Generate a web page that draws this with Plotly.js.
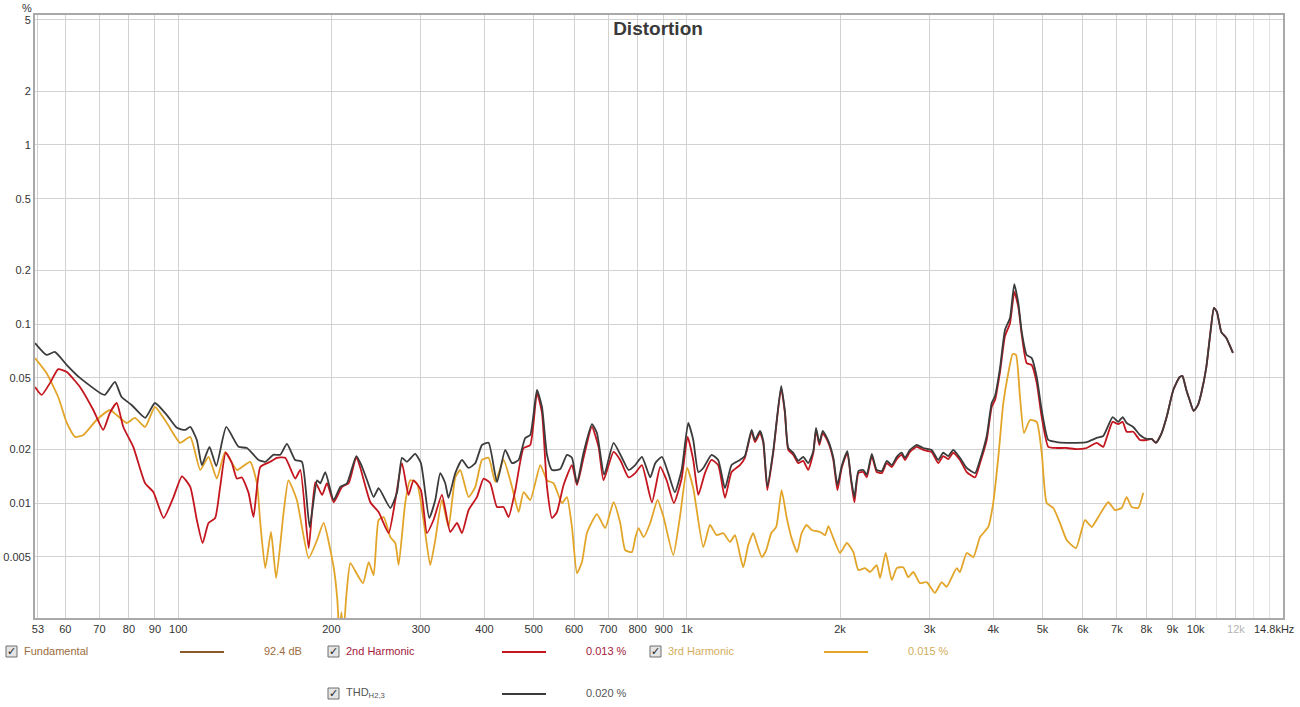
<!DOCTYPE html>
<html><head><meta charset="utf-8">
<script src="https://cdn.plot.ly/plotly-3.0.1.min.js"></script>
<style>html,body{margin:0;padding:0;background:#fff;}#chart{width:1300px;height:707px;}</style>
</head><body><div id="chart"></div>
<script>
// ---------- DATA ----------
const thdFreq=[52.3,55.1,57.2,60.4,64.1,70.2,71.8,75.1,77.4,81.0,
86.1,90.0,95.0,99.4,103.2,105.6,108.8,111.3,115.2,118.8,
124.3,131.4,136.5,143.9,148.3,153.9,158.7,163.6,169.8,175.1,
181.3,187.5,190.3,194.6,202.1,208.3,214.7,223.9,229.1,235.1,
242.2,247.7,261.2,269.3,275.3,281.6,292.3,300,311.5,320.1,
327.4,334.9,339.9,350.5,361.3,372.2,383.7,395.5,407.5,423.3,
439.4,453.1,466.8,481.0,492.1,507.3,518.9,530.8,542.9,563.6,
581.0,594.3,607.9,626.3,650.5,665.4,687.7,717.4,745.1,767.8,
791.4,815.8,847.1,866.4,893.1,918.9,947.1,976.3,1006,1029,
1053,1077,1118,1152,1188,1224,1271,1300,1340,1361,
1392,1413,1439,1478,1532,1558,1582,1618,1655,1693,
1731,1772,1794,1821,1849,1897,1940,1976,2015,2067,
2102,2134,2173,2222,2257,2309,2361,2416,2471,2527,
2585,2643,2683,2744,2829,2914,3027,3119,3191,3263,
3338,3441,3548,3684,3768,3884,3973,4033,4125,4219,
4316,4401,4481,4552,4655,4762,4871,4982,5133,5332,
5578,5837,6107,6389,6582,6868,7044,7186,7318,7539,
7771,8005,8194,8355,8574,8770,9037,9302,9416,9588,
9732,9910,10105,10261,10496,10688,10864,11011,11233,11490,
11838];
const thdPct=[0.0783,0.0672,0.0698,0.0590,0.0500,0.0412,0.0402,0.0475,0.0391,0.0353,
0.0299,0.0362,0.0310,0.0263,0.0256,0.0266,0.0225,0.0163,0.0206,0.0161,
0.0266,0.0206,0.0203,0.0174,0.0170,0.0186,0.0186,0.0214,0.0174,0.0170,
0.00735,0.0134,0.0129,0.0149,0.0104,0.0123,0.0129,0.0183,0.0163,0.0134,
0.0108,0.0121,0.00938,0.0115,0.0179,0.0170,0.0188,0.0167,0.00825,0.0104,
0.0147,0.0129,0.0107,0.0147,0.0174,0.0157,0.0167,0.0211,0.0217,0.0131,
0.0198,0.0167,0.0174,0.0231,0.0240,0.0428,0.0344,0.0186,0.0153,0.0155,
0.0186,0.0179,0.0129,0.0191,0.0276,0.0246,0.0144,0.0217,0.0179,0.0153,
0.0163,0.0181,0.0139,0.0167,0.0181,0.0147,0.0115,0.0153,0.0280,0.0225,
0.0149,0.0157,0.0186,0.0174,0.0121,0.0163,0.0174,0.0183,0.0256,0.0225,
0.0253,0.0222,0.0124,0.0195,0.0451,0.0327,0.0203,0.0191,0.0172,0.0181,
0.0167,0.0195,0.0263,0.0217,0.0253,0.0222,0.0179,0.0126,0.0161,0.0195,
0.0137,0.0108,0.0151,0.0153,0.0144,0.0188,0.0153,0.0151,0.0172,0.0163,
0.0181,0.0191,0.0179,0.0198,0.0211,0.0203,0.0198,0.0174,0.0191,0.0183,
0.0198,0.0179,0.0157,0.0147,0.0174,0.0237,0.0362,0.0396,0.0567,0.0925,
0.108,0.167,0.131,0.0902,0.0672,0.0645,0.0506,0.0331,0.0225,0.0219,
0.0217,0.0217,0.0219,0.0231,0.0237,0.0302,0.0284,0.0302,0.0280,0.0266,
0.0240,0.0228,0.0228,0.0217,0.0246,0.0302,0.0428,0.0506,0.0513,0.0428,
0.0376,0.0327,0.0353,0.0412,0.0575,0.0890,0.123,0.117,0.0902,0.0835,
0.0689];

const h2Freq=[52.3,53.9,56.0,58.1,60.4,64.1,68.1,71.2,73.4,75.7,
78.0,81.6,86.1,89.4,93.6,97.9,101.7,105.6,108.8,111.7,
114.7,118.2,120.9,124.0,127.5,130.4,133.4,137.5,140.6,145.0,
151.7,156.3,162.3,169.8,173.8,180.5,186.0,191.8,196.1,202.1,
209.9,216.3,223.9,228.1,238.6,247.7,259.2,267.2,275.3,283.6,
290.1,300,308.3,317.6,329.9,342.6,353.2,361.3,372.2,386.6,
398.4,410.6,423.3,436.1,446.1,459.9,477.5,492.1,507.3,518.9,
530.8,542.9,555.3,572.2,594.3,607.9,626.3,650.5,670.3,685.6,
717.4,739.4,767.8,791.4,815.8,853.6,886.2,912.2,942.9,976.3,
1003,1029,1053,1085,1118,1152,1188,1224,1271,1300,
1340,1361,1392,1413,1439,1478,1532,1558,1582,1618,
1655,1693,1731,1772,1794,1821,1849,1897,1940,1976,
2015,2067,2102,2134,2173,2222,2257,2309,2361,2416,
2471,2527,2585,2643,2683,2744,2829,2914,3027,3119,
3191,3263,3338,3441,3548,3684,3768,3884,3973,4033,
4125,4219,4316,4401,4481,4552,4655,4762,4871,4982,
5133,5332,5578,5837,6107,6389,6582,6684,6868,7044,
7186,7318,7539,7771,8005,8194,8355,8574,8770,9037,
9302,9416,9588,9732,9910,10105,10261,10496,10688,10864,
11011,11233,11490,11838];
const h2Pct=[0.0445,0.0402,0.0469,0.0560,0.0539,0.0445,0.0331,0.0256,0.0319,0.0362,
0.0266,0.0206,0.0129,0.0115,0.00825,0.0108,0.0141,0.0123,0.00804,0.00598,
0.00774,0.00825,0.0123,0.0191,0.0167,0.0137,0.0139,0.0114,0.00835,0.0159,
0.0170,0.0179,0.0179,0.0137,0.0153,0.00560,0.0131,0.0111,0.0129,0.0101,
0.0123,0.0129,0.0181,0.0157,0.0101,0.00891,0.00680,0.0104,0.0167,0.0111,
0.0134,0.0118,0.00680,0.00804,0.0111,0.00689,0.00774,0.00680,0.00914,0.0108,
0.0137,0.0129,0.00950,0.00950,0.00835,0.0118,0.0203,0.0211,0.0412,0.0319,
0.0123,0.00825,0.00891,0.0126,0.0163,0.0126,0.0179,0.0266,0.0206,0.0134,
0.0193,0.0174,0.0139,0.0147,0.0163,0.0101,0.0159,0.0134,0.0100,0.0137,
0.0234,0.0174,0.0111,0.0147,0.0174,0.0163,0.0107,0.0149,0.0163,0.0179,
0.0250,0.0219,0.0246,0.0217,0.0118,0.0191,0.0439,0.0319,0.0198,0.0186,
0.0167,0.0172,0.0153,0.0191,0.0256,0.0211,0.0246,0.0217,0.0174,0.0118,
0.0157,0.0191,0.0134,0.0101,0.0147,0.0149,0.0139,0.0183,0.0149,0.0147,
0.0167,0.0159,0.0176,0.0186,0.0174,0.0193,0.0206,0.0198,0.0193,0.0167,
0.0183,0.0176,0.0191,0.0174,0.0149,0.0139,0.0167,0.0225,0.0344,0.0376,
0.0539,0.0856,0.101,0.151,0.125,0.0868,0.0605,0.0590,0.0469,0.0302,
0.0206,0.0203,0.0203,0.0200,0.0203,0.0217,0.0206,0.0231,0.0284,0.0276,
0.0284,0.0250,0.0250,0.0225,0.0225,0.0228,0.0217,0.0246,0.0302,0.0428,
0.0506,0.0513,0.0428,0.0376,0.0327,0.0353,0.0412,0.0575,0.0890,0.123,
0.117,0.0902,0.0835,0.0689];

const h3Freq=[52.3,55.1,58.1,60.4,62.7,65.1,69.1,73.4,75.7,79.2,
82.2,86.1,90.0,95.0,100.9,105.6,110.5,114.7,119.1,123.7,
130.4,138.5,142.8,145.0,148.3,152.2,155.8,161.1,164.7,171.1,
180.5,187.5,193.1,202.1,205.5,207.4,209.3,211.2,214.1,218.0,
225.1,230.9,236.8,242.2,247.7,253.5,261.2,267.2,271.2,279.4,
285.8,294.6,303.5,312.9,320.1,329.9,339.9,350.5,358.4,372.2,
383.7,395.5,407.5,420.1,436.1,453.1,466.8,477.5,492.1,515.0,
530.8,546.8,568.0,581.0,594.3,607.9,621.8,636.1,665.4,690.8,
717.4,739.4,756.3,779.6,791.4,803.3,821.7,847.1,875.5,899.5,
939.9,968.8,1001,1029,1077,1110,1144,1179,1215,1243,
1290,1320,1350,1371,1404,1432,1465,1498,1535,1570,
1606,1647,1681,1719,1759,1827,1869,1897,1940,2000,
2062,2124,2173,2239,2291,2361,2397,2459,2527,2585,
2662,2723,2786,2871,2960,3073,3167,3240,3390,3441,
3548,3656,3768,3912,4000,4094,4187,4283,4369,4435,
4515,4599,4725,4871,4982,5096,5251,5412,5578,5818,
6060,6247,6435,6733,6940,7154,7318,7486,7712,7888];
const h3Pct=[0.0645,0.0532,0.0391,0.0280,0.0234,0.0240,0.0291,0.0331,0.0310,0.0280,
0.0299,0.0266,0.0344,0.0280,0.0217,0.0234,0.0153,0.0181,0.0137,0.0193,
0.0153,0.0170,0.0129,0.00774,0.00433,0.00689,0.00381,0.00880,0.0134,0.0104,
0.00493,0.00621,0.00774,0.00438,0.00287,0.00183,0.00246,0.00183,0.00307,0.00462,
0.00396,0.00357,0.00468,0.00396,0.00804,0.00835,0.00645,0.00598,0.00450,0.0100,
0.0134,0.0129,0.00804,0.00450,0.00621,0.0104,0.00735,0.0139,0.0153,0.0108,
0.0123,0.0174,0.0179,0.0131,0.0174,0.0123,0.00891,0.0115,0.0104,0.0163,
0.0134,0.0129,0.0100,0.0108,0.00735,0.00406,0.00468,0.00680,0.00868,0.00725,
0.0101,0.00774,0.00546,0.00532,0.00637,0.00725,0.00645,0.00774,0.0104,0.00835,
0.00512,0.00835,0.0157,0.0121,0.00567,0.00754,0.00662,0.00680,0.00606,0.00662,
0.00438,0.00583,0.00680,0.00598,0.00499,0.00546,0.00680,0.00735,0.0118,0.00835,
0.00637,0.00532,0.00680,0.00754,0.00707,0.00689,0.00662,0.00744,0.00637,0.00526,
0.00598,0.00532,0.00422,0.00433,0.00412,0.00450,0.00381,0.00526,0.00371,0.00433,
0.00438,0.00385,0.00412,0.00357,0.00362,0.00315,0.00362,0.00340,0.00433,0.00412,
0.00526,0.00499,0.00645,0.00735,0.0100,0.0181,0.0362,0.0532,0.0680,0.0672,
0.0391,0.0246,0.0291,0.0284,0.0191,0.0100,0.00938,0.00774,0.00621,0.00560,
0.00804,0.00735,0.00835,0.0101,0.00914,0.00938,0.0108,0.00950,0.00938,0.0114];

const xTickVals=[53,60,70,80,90,100,200,300,400,500,600,700,800,900,1000,2000,3000,4000,5000,6000,7000,8000,9000,10000,12000];
const xTickText=['53','60','70','80','90','100','200','300','400','500','600','700','800','900','1k','2k','3k','4k','5k','6k','7k','8k','9k','10k','<span style="color:#b4b4b4">12k</span>'];
const xEndLabel='14.8kHz';
const xMinorVals=[11000,13000,14000];
const xDecadeVals=[100,1000,10000];
const yTickVals=[0.005,0.01,0.02,0.05,0.1,0.2,0.5,1,2,5];
const yTickText=['0.005','0.01','0.02','0.05','0.1','0.2','0.5','1','2','5'];
const yDecadeVals=[0.01,0.1,1];

const seriesNames=['Fundamental','2nd Harmonic','3rd Harmonic','THD<sub>H2,3</sub>'];
const seriesReadouts=['92.4 dB','0.013 %','0.015 %','0.020 %'];

// ---------- STYLE / LAYOUT ----------
const L=35,R=1283,T=15,B=618;
const px=x=>(x-L)/(R-L), py=y=>(B-y)/(B-T);
const xRange=[Math.log10(52.3),Math.log10(14850)];
const yRange=[Math.log10(0.00228),Math.log10(5.32)];
const FONT='Arial, "Liberation Sans", sans-serif';

const lineColors=['#8b5a2b','#c4161f','#e2a52a','#3c3c3c'];
const textColors=['#9c6c40','#a3203a','#d3ad5c','#555555'];
const slots=[[0,651],[322,651],[644,651],[322,693]];

const traces=[
 {x:h3Freq,y:h3Pct,type:'scatter',mode:'lines',line:{color:lineColors[2],width:1.8,shape:'spline',smoothing:0.5},hoverinfo:'skip'},
 {x:h2Freq,y:h2Pct,type:'scatter',mode:'lines',line:{color:lineColors[1],width:1.8,shape:'spline',smoothing:0.5},hoverinfo:'skip'},
 {x:thdFreq,y:thdPct,type:'scatter',mode:'lines',line:{color:lineColors[3],width:1.8,shape:'spline',smoothing:0.5},hoverinfo:'skip'}
];

const annotations=[
 {text:'%',xref:'paper',yref:'paper',x:px(27),y:py(8),showarrow:false,font:{family:FONT,size:11,color:'#333'},xanchor:'center',yanchor:'middle'},
 {text:xEndLabel,xref:'paper',yref:'paper',x:px(1296),y:py(629),showarrow:false,font:{family:FONT,size:11,color:'#333'},xanchor:'right',yanchor:'middle'}
];
const shapes=[];
// darker decade gridlines (log axes: shape coords are log10 of the value)
xDecadeVals.forEach(v=>shapes.push({type:'line',layer:'below',xref:'x',yref:'paper',x0:Math.log10(v),x1:Math.log10(v),y0:0,y1:1,line:{color:'#8e8e8e',width:1}}));
yDecadeVals.forEach(v=>shapes.push({type:'line',layer:'below',xref:'paper',yref:'y',x0:0,x1:1,y0:Math.log10(v),y1:Math.log10(v),line:{color:'#9c9c9c',width:1}}));

seriesNames.forEach((name,i)=>{
  const [dx,yy]=slots[i];
  shapes.push({type:'rect',xref:'paper',yref:'paper',x0:px(6+dx),x1:px(17+dx),y0:py(yy+6),y1:py(yy-5),
    fillcolor:'#e4e4e4',line:{color:'#6e6e6e',width:1}});
  annotations.push({text:'✓',xref:'paper',yref:'paper',x:px(11.8+dx),y:py(yy+0.5),showarrow:false,
    font:{family:'DejaVu Sans, sans-serif',size:11,color:'#222'},xanchor:'center',yanchor:'middle'});
  annotations.push({text:name,xref:'paper',yref:'paper',x:px(22+dx),y:py(yy),showarrow:false,
    font:{family:FONT,size:11,color:textColors[i]},xanchor:'left',yanchor:'middle'});
  shapes.push({type:'line',xref:'paper',yref:'paper',x0:px(180+dx),x1:px(224+dx),y0:py(yy+1),y1:py(yy+1),
    line:{color:lineColors[i],width:2}});
  annotations.push({text:seriesReadouts[i],xref:'paper',yref:'paper',x:px(262+dx),y:py(yy),showarrow:false,
    font:{family:FONT,size:11,color:textColors[i]},xanchor:'left',yanchor:'middle'});
});

const layout={
  width:1300,height:707,
  margin:{l:L,r:1300-R,t:T,b:707-B,pad:0},
  paper_bgcolor:'#ffffff',plot_bgcolor:'#ffffff',
  showlegend:false,
  title:{text:'<b>Distortion</b>',x:px(658),xref:'paper',xanchor:'center',y:1-28/707,yref:'container',yanchor:'middle',
    font:{family:FONT,size:19,color:'#3a3a3a'}},
  xaxis:{type:'log',range:xRange,tickvals:xTickVals,ticktext:xTickText,showgrid:true,gridcolor:'#d2d2d2',gridwidth:1,
    ticks:'',tickfont:{family:FONT,size:11,color:'#333'},showline:true,mirror:true,linecolor:'#a9a9a9',linewidth:2,zeroline:false,
    minor:{tickvals:xMinorVals,showgrid:true,gridcolor:'#e2e2e2',ticks:''},fixedrange:true},
  yaxis:{type:'log',range:yRange,tickvals:yTickVals,ticktext:yTickText,showgrid:true,gridcolor:'#d2d2d2',gridwidth:1,
    ticks:'',tickfont:{family:FONT,size:11,color:'#333'},showline:true,mirror:true,linecolor:'#a9a9a9',linewidth:2,zeroline:false,fixedrange:true},
  annotations:annotations,
  shapes:shapes
};
Plotly.newPlot('chart',traces,layout,{staticPlot:true,displayModeBar:false});
</script>
</body></html>
